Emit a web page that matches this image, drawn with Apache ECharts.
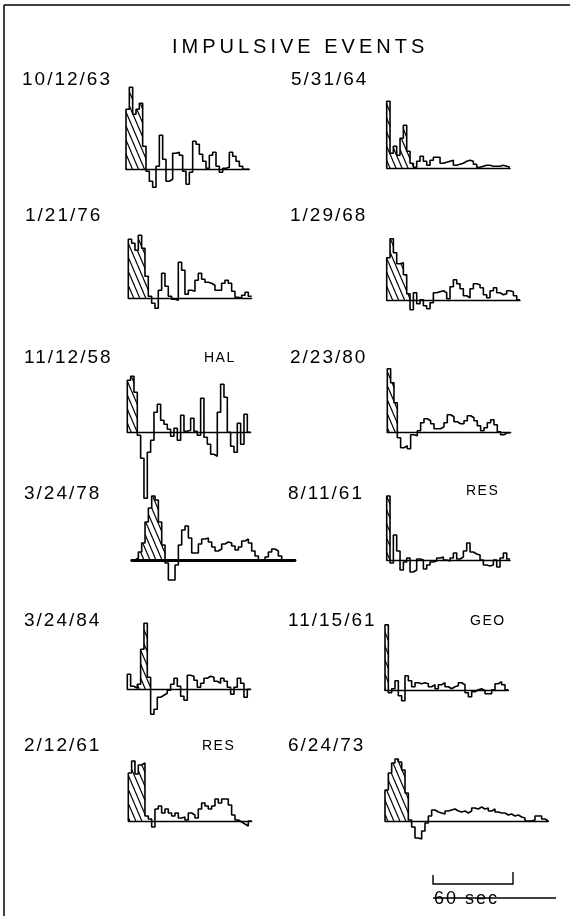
<!DOCTYPE html>
<html><head><meta charset="utf-8">
<script src="https://cdn.jsdelivr.net/npm/echarts@6/dist/echarts.min.js"></script>
<style>html,body{margin:0;padding:0;background:#fff}#c{width:573px;height:916px}</style>
</head><body><div id="c"></div>
<script>
// ---------------- DATA ----------------
const titleText = 'IMPULSIVE EVENTS';
const dates = ['10/12/63','5/31/64','1/21/76','1/29/68','11/12/58','2/23/80','3/24/78','8/11/61','3/24/84','11/15/61','2/12/61','6/24/73'];
const stations = ['', '', '', '', 'HAL', '', '', 'RES', '', 'GEO', 'RES', ''];
const secPerStep = 2.5;           // seconds per sample
const scaleBarSec = 60;
const scaleBarLabel = '60 sec';

const v_101263 = [60,82,55,60,66,23,-2,-12,-18,3,34,10,-12,-10,16,17,14,-2,-15,-3,28,25,15,8,1,14,17,3,-3,1,2,17,13,8,3,0,0];
const v_053164 = [67,15,22,13,30,43,17,5,1,7,12,7,3,8,11,11,5,6,7,8,3,4,5,7,8,7,4,1,2,3,3,2,2,2,3,2,1];
const v_012176 = [59,55,48,63,50,22,2,-5,-10,8,25,12,2,-1,-2,36,28,4,8,7,18,25,19,16,15,13,8,8,15,18,15,7,1,0,3,6,2];
const v_012968 = [43,62,48,37,38,26,7,-9,8,-3,1,-5,-8,-2,8,9,10,8,2,14,21,17,12,5,3,12,17,16,13,6,3,10,13,8,6,7,10,9,5,1];
const v_111258 = [52,56,40,-3,-26,-66,-20,-8,20,28,12,8,3,-4,4,-8,17,1,2,14,1,-3,34,-5,-12,-22,-24,20,48,35,0,-14,-20,9,-12,18,0];
const v_022380 = [64,50,30,-5,-15,-13,-16,-2,-3,2,10,14,12,9,4,4,6,10,18,16,11,9,9,12,17,15,12,7,2,5,10,13,8,1,-2,0,0];
const v_032478 = [0,2,8,17,38,52,64,60,38,15,-3,-20,-20,-5,15,30,34,22,7,7,16,21,22,18,13,9,11,16,18,17,14,10,13,19,21,17,9,4,0,-1,3,8,11,9,4,0,0,0,0];
const v_081161 = [64,-3,25,9,-10,-2,2,-12,-10,1,0,-9,-5,-2,-1,2,3,0,-1,2,7,1,3,9,17,8,6,5,0,-5,-6,-5,0,-7,2,7,1];
const v_032484 = [15,3,1,5,40,66,12,-25,-20,-8,-6,-4,-1,5,11,3,-7,-11,14,13,9,2,6,11,13,12,8,6,11,8,2,-5,2,11,6,-8,0];
const v_111561 = [66,-2,2,10,-5,-10,15,10,4,8,7,8,7,4,6,2,6,8,4,2,4,5,8,6,-2,-6,-1,1,2,0,-3,-3,1,7,9,6,1];
const v_021261 = [48,60,47,56,58,5,2,-6,12,15,8,12,8,5,8,3,4,1,8,6,3,12,18,15,12,15,22,18,22,22,16,6,1,-1,-3,-5,0];
const v_062473 = [31,48,58,62,59,51,28,1,-6,-17,-18,-10,-2,5,11,9,8,7,10,11,12,10,9,10,8,10,13,12,14,12,13,10,12,9,8,8,6,7,5,6,4,3,0,0,1,5,5,2,0];

const seriesValues = [v_101263,v_053164,v_012176,v_012968,v_111258,v_022380,v_032478,v_081161,v_032484,v_111561,v_021261,v_062473];
// impulsive (hatched) sample index ranges
const hatchRanges = [[0,5],[0,7],[0,5],[0,6],[0,2],[0,2],[1,9],[0,0],[3,6],[0,0],[0,4],[0,6]];

// ---------------- LAYOUT (positions only) ----------------
const pxPerSec = 4/3;
const yHalf = 90;
const layout = [
  {x:126,   y:169.3, lx:22, ly:80,  sx:0,   sy:0},
  {x:386.7, y:168.3, lx:291,ly:80,  sx:0,   sy:0},
  {x:128.3, y:298.3, lx:25, ly:216, sx:0,   sy:0},
  {x:386.7, y:300.7, lx:290,ly:216, sx:0,   sy:0},
  {x:127.3, y:432.3, lx:24, ly:358, sx:204, sy:358},
  {x:387.3, y:432.7, lx:290,ly:358, sx:0,   sy:0},
  {x:131.7, y:560,   lx:24, ly:494, sx:0,   sy:0},
  {x:386.7, y:560,   lx:288,ly:494, sx:466, sy:491},
  {x:127.3, y:689.3, lx:24, ly:621, sx:0,   sy:0},
  {x:385,   y:690.7, lx:288,ly:621, sx:470, sy:621},
  {x:128.3, y:821,   lx:24, ly:746, sx:202, sy:746},
  {x:385,   y:821,   lx:288,ly:746, sx:0,   sy:0}
];

function makeHatch(w, h, lw) {
  const c = document.createElement('canvas'); c.width = w; c.height = h;
  const ctx = c.getContext('2d');
  ctx.strokeStyle = '#000'; ctx.lineWidth = lw;
  for (let k = -1; k <= 1; k++) {
    ctx.beginPath(); ctx.moveTo(k*w - w, -h); ctx.lineTo(k*w + 2*w, 2*h); ctx.stroke();
  }
  return c;
}
const hatchPat = makeHatch(6, 14, 1.2);

const grids = [], xAxes = [], yAxes = [], series = [], graphics = [];
const LBL_FONT = '19px "Liberation Sans", Arial, sans-serif';
const STN_FONT = '14px "Liberation Sans", Arial, sans-serif';
const Z_TITLE = 10, Z_LABEL = 11, Z_STN = 12;   // separate canvas layers for letter spacing

seriesValues.forEach((vals, i) => {
  const L = layout[i];
  const N = vals.length;
  const xMax = N * secPerStep;
  grids.push({left: L.x, top: L.y - yHalf, width: xMax * pxPerSec, height: 2*yHalf, containLabel:false});
  xAxes.push({gridIndex:i, type:'value', min:0, max:xMax,
    axisLine:{show:true, onZero:true, lineStyle:{color:'#000', width: i===6 ? 2.8 : 1.4}},
    axisTick:{show:false}, axisLabel:{show:false}, splitLine:{show:false}});
  yAxes.push({gridIndex:i, type:'value', min:-yHalf, max:yHalf, show:false});

  const line = [[0,0]];
  vals.forEach((v,k) => line.push([k*secPerStep, v]));
  line.push([N*secPerStep, vals[N-1]]);
  line.push([N*secPerStep, 0]);

  const [a,b] = hatchRanges[i];
  const hd = [];
  for (let k = a; k <= b; k++) hd.push([k*secPerStep, vals[k]]);
  hd.push([(b+1)*secPerStep, vals[b]]);

  series.push({type:'line', xAxisIndex:i, yAxisIndex:i, step:'end', symbol:'none', silent:true,
    data:hd, lineStyle:{width:0, opacity:0}, areaStyle:{color:{image:hatchPat, repeat:'repeat'}, opacity:1, origin:0}, z:1});
  series.push({type:'line', xAxisIndex:i, yAxisIndex:i, step:'end', symbol:'none', silent:true,
    data:line, lineStyle:{color:'#000', width:1.6}, z:2});

  graphics.push({type:'text', zlevel:Z_LABEL, x:L.lx, y:L.ly, style:{text:dates[i], font:LBL_FONT, fill:'#000', textVerticalAlign:'middle'}});
  if (stations[i]) graphics.push({type:'text', zlevel:Z_STN, x:L.sx, y:L.sy, style:{text:stations[i], font:STN_FONT, fill:'#000', textVerticalAlign:'middle'}});
});

// title
graphics.push({type:'text', zlevel:Z_TITLE, x:172, y:47, style:{text:titleText, font:'20px "Liberation Sans", Arial, sans-serif', fill:'#000', textVerticalAlign:'middle'}});
// frame
graphics.push({type:'line', shape:{x1:4, y1:5, x2:4, y2:916}, style:{stroke:'#000', lineWidth:1.5}});
graphics.push({type:'line', shape:{x1:4, y1:5, x2:570, y2:5}, style:{stroke:'#000', lineWidth:1.5}});
// scale bar
const sbX = 433, sbLen = scaleBarSec * pxPerSec;
graphics.push({type:'polyline', shape:{points:[[sbX,875],[sbX,884],[sbX+sbLen,884],[sbX+sbLen,872]]}, style:{stroke:'#000', lineWidth:1.4, fill:null}});
graphics.push({type:'text', zlevel:Z_LABEL, x:sbX+1, y:899, style:{text:scaleBarLabel, font:'18px "Liberation Sans", Arial, sans-serif', fill:'#000', textVerticalAlign:'middle'}});
graphics.push({type:'line', shape:{x1:sbX, y1:898, x2:556, y2:898}, style:{stroke:'#000', lineWidth:1.5}});

const chart = echarts.init(document.getElementById('c'), null, {renderer:'canvas'});
const zr = chart.getZr();
const spacing = {[Z_TITLE]:'4px', [Z_LABEL]:'2px', [Z_STN]:'1.5px'};
function applySpacing() {
  try {
    Object.keys(spacing).forEach(z => {
      const layer = zr.painter.getLayer(+z);
      if (layer && layer.ctx) layer.ctx.letterSpacing = spacing[z];
    });
  } catch (e) {}
}
applySpacing();
chart.setOption({animation:false, backgroundColor:'#fff', grid:grids, xAxis:xAxes, yAxis:yAxes, series:series, graphic:graphics});
applySpacing();
try { zr.painter.refresh(true); } catch (e) { zr.refreshImmediately(); }
</script></body></html>
